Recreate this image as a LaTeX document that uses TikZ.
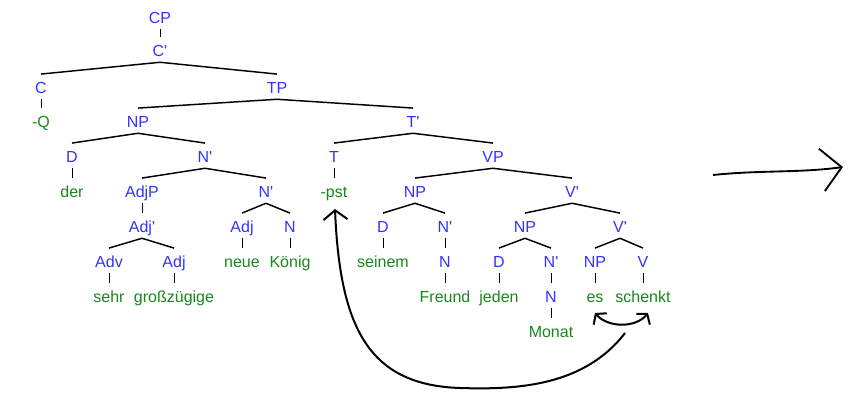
\documentclass[tikz,border=0pt]{standalone}
\usepackage{fontspec}
\setmainfont{Liberation Sans}[Ligatures=TeXOff]
\usetikzlibrary{arrows.meta}
\definecolor{catblue}{RGB}{51,51,255}
\definecolor{wordgreen}{RGB}{25,135,25}
\tikzset{
  lbl/.style={anchor=base,inner xsep=1pt,inner ysep=1.5pt,text height=12.5pt,text depth=3pt,font=\fontsize{12}{14}\selectfont},
  cat/.style={lbl,text=catblue},
  wrd/.style={lbl,text=wordgreen},
  branch/.style={line width=1.1pt},
  unary/.style={line width=0.6pt},
  move/.style={line width=1.5pt,-{Straight Barb[width=18pt,length=7pt]}},
}
\begin{document}
\begin{tikzpicture}[x=0.75pt,y=-0.75pt]
\useasboundingbox (0,0) rectangle (851,405);

\node[cat] (cp) at (160,23) {CP};
\node[cat] (cbar) at (160,56) {C'};
\node[cat] (c) at (41,93) {C};
\node[wrd] (q) at (41,127) {-Q};
\node[cat] (tp) at (277,93) {TP};
\node[cat] (np1) at (138,127) {NP};
\node[cat] (tbar) at (413,127) {T'};
\node[cat] (d1) at (72,162) {D};
\node[wrd] (der) at (72,197) {der};
\node[cat] (nbar1) at (205,162) {N'};
\node[cat] (adjp) at (142,197) {AdjP};
\node[cat] (adjbar) at (142,232) {Adj'};
\node[cat] (adv) at (109,267) {Adv};
\node[wrd] (sehr) at (109,302) {sehr};
\node[cat] (adj1) at (174,267) {Adj};
\node[wrd] (grossz) at (174,302) {großzügige};
\node[cat] (nbar2) at (266,197) {N'};
\node[cat] (adj2) at (242,232) {Adj};
\node[wrd] (neue) at (242,267) {neue};
\node[cat] (n1) at (290,232) {N};
\node[wrd] (koenig) at (290,267) {König};
\node[cat] (t) at (334,162) {T};
\node[wrd] (pst) at (334,197) {-pst};
\node[cat] (vp) at (493,162) {VP};
\node[cat] (np2) at (415,197) {NP};
\node[cat] (d2) at (383,232) {D};
\node[wrd] (seinem) at (383,267) {seinem};
\node[cat] (nbar3) at (445,232) {N'};
\node[cat] (n2) at (445,267) {N};
\node[wrd] (freund) at (445,302) {Freund};
\node[cat] (vbar1) at (572,197) {V'};
\node[cat] (np3) at (525,232) {NP};
\node[cat] (d3) at (499,267) {D};
\node[wrd] (jeden) at (499,302) {jeden};
\node[cat] (nbar4) at (551,267) {N'};
\node[cat] (n3) at (551,302) {N};
\node[wrd] (monat) at (551,337) {Monat};
\node[cat] (vbar2) at (620,232) {V'};
\node[cat] (np4) at (595,267) {NP};
\node[wrd] (es) at (595,302) {es};
\node[cat] (v) at (643,267) {V};
\node[wrd] (schenkt) at (643,302) {schenkt};

\foreach \a/\b in {cbar/c,cbar/tp,tp/np1,tp/tbar,np1/d1,np1/nbar1,nbar1/adjp,nbar1/nbar2,
  adjbar/adv,adjbar/adj1,nbar2/adj2,nbar2/n1,tbar/t,tbar/vp,vp/np2,vp/vbar1,np2/d2,np2/nbar3,
  vbar1/np3,vbar1/vbar2,np3/d3,np3/nbar4,vbar2/np4,vbar2/v}
  \draw[branch] (\a.south) -- (\b.north);
\foreach \a/\b in {cp/cbar,c/q,d1/der,adjp/adjbar,adv/sehr,adj1/grossz,adj2/neue,n1/koenig,
  t/pst,d2/seinem,nbar3/n2,n2/freund,d3/jeden,nbar4/n3,n3/monat,np4/es,v/schenkt}
  \draw[unary] (\a.south) -- (\b.north);

\coordinate (esfoot) at (595,313);
\coordinate (vfoot) at (648,313);
\coordinate (swap) at (625,333);
\coordinate (pstfoot) at (335,209);
\draw[line width=1.5pt,{Straight Barb[width=13pt,length=5pt]}-{Straight Barb[width=13pt,length=5pt]}]
  (esfoot) .. controls (608,328) and (636,328) .. (vfoot);
\draw[move] (swap) .. controls (585,385) and (520,390) .. (460,388)
  .. controls (370,385) and (340,330) .. (pstfoot);

\coordinate (arrowstart) at (713,175);
\coordinate (arrowend) at (843,167);
\draw[line width=1.4pt,-{Straight Barb[width=32pt,length=15pt]}]
  (arrowstart) .. controls (760,170) and (800,173) .. (arrowend);
\end{tikzpicture}
\end{document}
